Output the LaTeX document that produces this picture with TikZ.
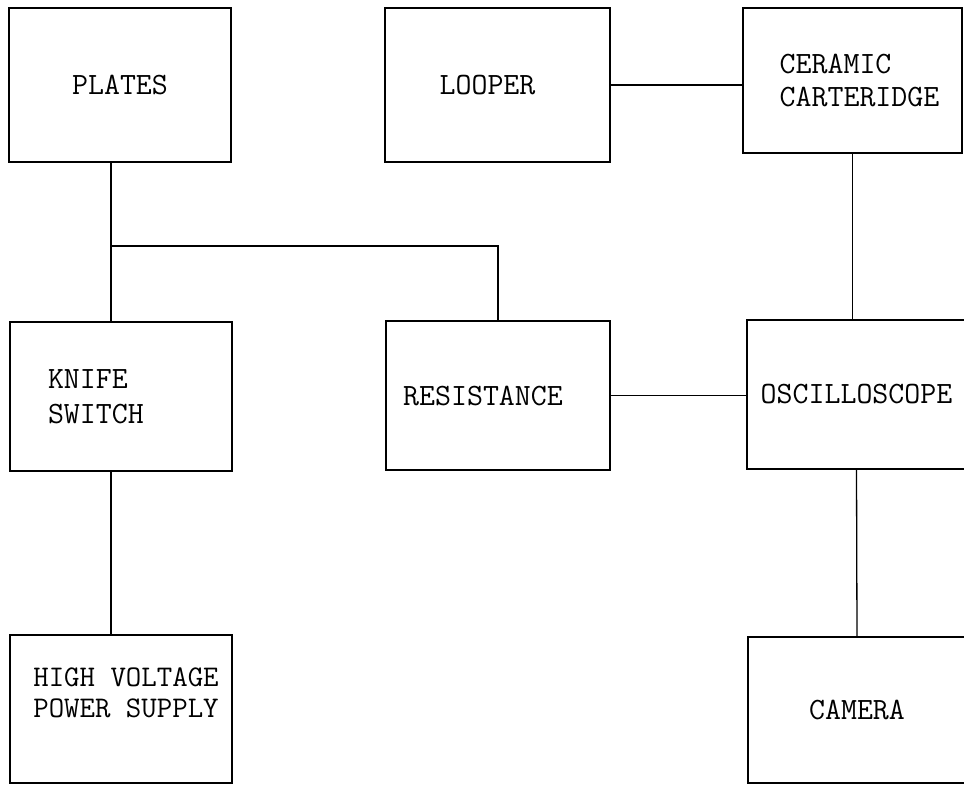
\documentclass[tikz,border=0pt]{standalone}
\usetikzlibrary{calc}
\tikzset{
  box/.style={draw, line width=1.4pt, inner sep=0pt, font=\ttfamily\fontsize{31}{34}\selectfont, align=left},
  wire/.style={line width=1.3pt}
}
\begin{document}
\begin{tikzpicture}[x=1pt, y=-1pt]
    \useasboundingbox (0,0) rectangle (964,785);
    % Top row
    \node[box, minimum width=222, minimum height=154] (plates) at (120,85) {PLATES};
    \node[box, minimum width=225, minimum height=154] (looper) at (497.5,85) {LOOPER\hspace{20pt}};
    \node[box, minimum width=219, minimum height=145, font=\ttfamily\fontsize{31}{33}\selectfont] (ceramic) at (852.5,80.5) {\hspace*{14pt}CERAMIC\\\hspace*{14pt}CARTERIDGE};

    % Middle row
    \node[box, minimum width=222, minimum height=149, text width=146, inner xsep=38, font=\ttfamily\fontsize{31}{35}\selectfont] (knife) at (121,396.5) {KNIFE\\SWITCH};
    \node[box, minimum width=224, minimum height=149] (resist) at (498,395.5) {RESISTANCE\hspace{30pt}};
    \node[box, minimum width=219, minimum height=149] (osc) at (856.5,394.5) {OSCILLOSCOPE};

    % Bottom row
    \node[box, minimum width=222, minimum height=148, font=\ttfamily\fontsize{30}{31}\selectfont] (hv) at (121,709) {\hspace*{10pt}HIGH VOLTAGE\\\hspace*{10pt}POWER SUPPLY\\[2pt]};
    \node[box, minimum width=218, minimum height=146] (camera) at (857,710) {CAMERA};

    % Connections
    \coordinate (jn) at (111,246);
    \draw[wire] (plates.south -| jn) -- (knife.north -| jn);
    \draw[wire] (jn) -| (resist.north);
    \draw[wire] (knife.south -| jn) -- (hv.north -| jn);
    \draw[wire] (looper.east) -- (looper.east -| ceramic.west);
    \draw[wire] (ceramic.south) -- (ceramic.south |- osc.north);
    \draw[wire] (resist.east) -- (resist.east -| osc.west);
    \draw[wire] (osc.south) -- (camera.north);
\end{tikzpicture}
\end{document}
